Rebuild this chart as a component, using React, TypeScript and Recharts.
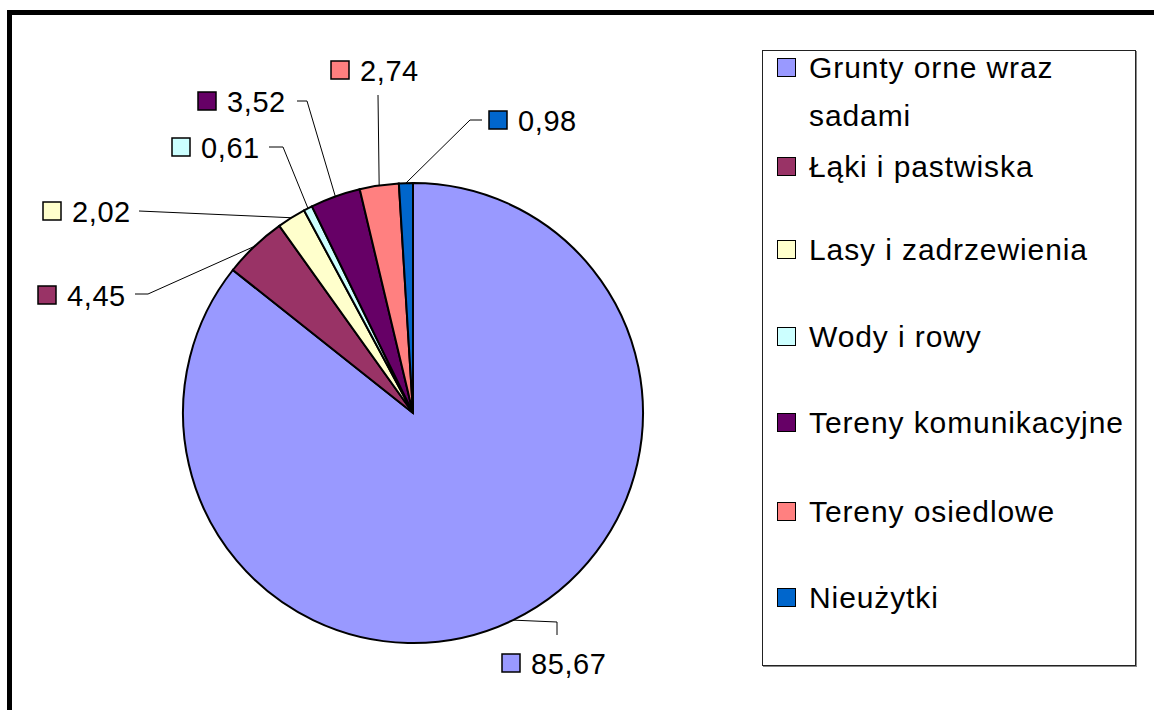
import React from 'react';
import { PieChart, Pie, Cell, Legend } from 'recharts';

// land use structure (%)
const categories = [
  'Grunty orne wraz sadami',
  'Łąki i pastwiska',
  'Lasy i zadrzewienia',
  'Wody i rowy',
  'Tereny komunikacyjne',
  'Tereny osiedlowe',
  'Nieużytki',
];
const shares = [85.67, 4.45, 2.02, 0.61, 3.52, 2.74, 0.98];
const sliceColors = ['#9999FF', '#993366', '#FFFFCC', '#CCFFFF', '#660066', '#FF8080', '#0066CC'];

const data = categories.map((name, i) => ({ name, value: shares[i] }));
const fmt = (v: number) => v.toFixed(2).replace('.', ',');

const FONT = '"Liberation Sans", Arial, sans-serif';

// where Excel put each data label: elbow of the leader, leader end, marker left / centre
const labelLayout: { elbow?: [number, number]; end: [number, number]; marker: [number, number] }[] = [
  { elbow: [557, 622], end: [557, 635], marker: [502, 663] },
  { elbow: [148, 294], end: [135, 294], marker: [38, 295] },
  { end: [139, 211], marker: [43, 211] },
  { elbow: [283, 147], end: [269, 147], marker: [172, 147] },
  { elbow: [307, 101], end: [297, 101], marker: [198, 101] },
  { end: [378, 95], marker: [331, 70] },
  { elbow: [470, 120], end: [482, 120], marker: [489, 120] },
];

// legend rows (marker top inside the box)
const legendRowTops = [7, 106, 189, 276, 362, 451, 537];

const RADIAN = Math.PI / 180;

const renderLabel = (props: any) => {
  const { cx, cy, midAngle, outerRadius, index } = props;
  const lay = labelLayout[index];
  const sx = cx + outerRadius * Math.cos(-midAngle * RADIAN);
  const sy = cy + outerRadius * Math.sin(-midAngle * RADIAN);
  const pts = [[sx, sy], ...(lay.elbow ? [lay.elbow] : []), lay.end];
  const [mx, my] = lay.marker;
  return (
    <g key={`lbl-${index}`}>
      <polyline points={pts.map((p) => p.join(',')).join(' ')} fill="none" stroke="#000" strokeWidth={1} />
      <rect x={mx} y={my - 9} width={18} height={18} fill={sliceColors[index]} stroke="#000" strokeWidth={1.5} />
      <text
        x={mx + 29}
        y={my + 10.5}
        fontFamily={FONT}
        fontSize={29}
        letterSpacing={0.6}
        fill="#000"
      >
        {fmt(shares[index])}
      </text>
    </g>
  );
};

const renderLegend = () => (
  <div style={{ position: 'relative', width: '100%', height: '100%', fontFamily: FONT }}>
    {categories.map((name, i) => (
      <React.Fragment key={name}>
        <div
          style={{
            position: 'absolute',
            left: 14,
            top: legendRowTops[i],
            width: 17,
            height: 17,
            background: sliceColors[i],
            border: '1.5px solid #000',
          }}
        />
        <div
          style={{
            position: 'absolute',
            left: 46,
            top: legendRowTops[i] - 14,
            width: 326,
            fontSize: 30,
            letterSpacing: 0.9,
            lineHeight: '48px',
            color: '#000',
            whiteSpace: 'normal',
          }}
        >
          {name}
        </div>
      </React.Fragment>
    ))}
  </div>
);

export default function App() {
  return (
    <div style={{ position: 'absolute', left: 0, top: 0, width: 1154, height: 710, background: '#fff', overflow: 'hidden' }}>
      <div
        style={{
          position: 'absolute',
          left: 7,
          top: 10,
          width: 1147,
          height: 700,
          boxSizing: 'border-box',
          borderTop: '5px solid #000',
          borderLeft: '5px solid #000',
        }}
      />
      <div style={{ position: 'absolute', left: 0, top: 0 }}>
        <PieChart width={1154} height={710} margin={{ top: 0, right: 0, bottom: 0, left: 0 }}>
          <Pie
            data={data}
            dataKey="value"
            nameKey="name"
            cx={413}
            cy={413}
            outerRadius={230}
            startAngle={90}
            endAngle={-270}
            stroke="#000"
            strokeWidth={2}
            label={renderLabel}
            labelLine={false}
            isAnimationActive={false}
          >
            {data.map((d, i) => (
              <Cell key={d.name} fill={sliceColors[i]} />
            ))}
          </Pie>
          <Legend
            layout="vertical"
            align="right"
            verticalAlign="top"
            content={renderLegend}
            wrapperStyle={{
              left: 762,
              top: 50,
              width: 374,
              height: 616,
              boxSizing: 'border-box',
              border: '1px solid #222',
              boxShadow: '1px 1px 0 #888',
              background: '#fff',
            }}
          />
        </PieChart>
      </div>
    </div>
  );
}
